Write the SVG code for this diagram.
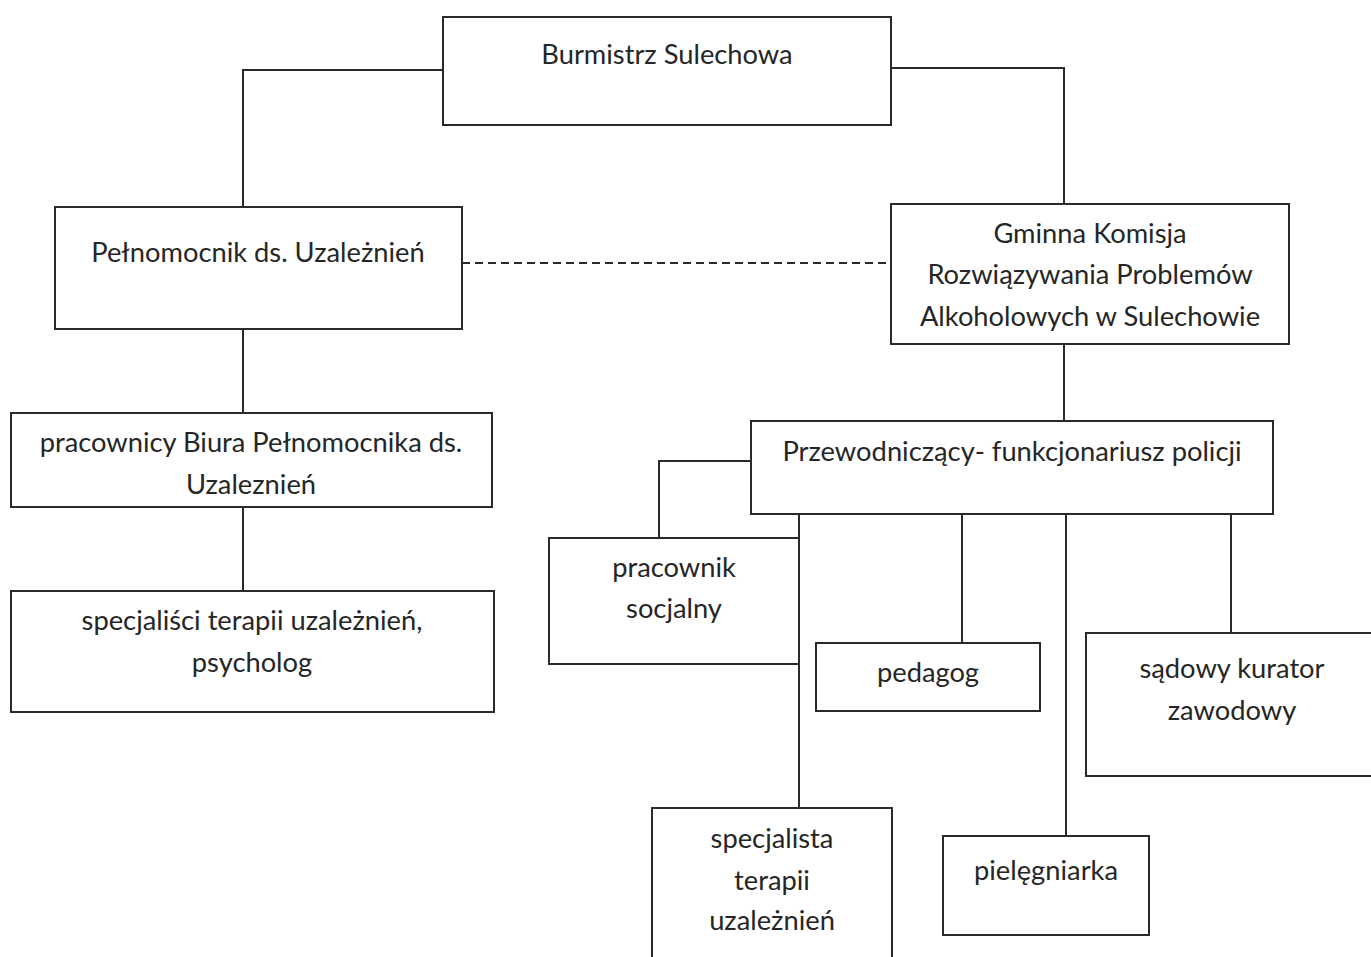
<svg xmlns="http://www.w3.org/2000/svg" width="1371" height="957" viewBox="0 0 1371 957">
<style>
.box{fill:#fff;stroke:#2a2a2a;stroke-width:2}
.ln{fill:none;stroke:#2a2a2a;stroke-width:2}
.dash{fill:none;stroke:#2a2a2a;stroke-width:2;stroke-dasharray:8 5}
text{font-family:"Lato","Open Sans",sans-serif;font-size:27.3px;fill:#262626;text-anchor:middle}
</style>
<rect width="1371" height="957" fill="#fff"/>
<g id="connectors">
<polyline class="ln" points="443,70 243,70 243,207"/>
<polyline class="ln" points="891,68 1064,68 1064,204"/>
<line class="dash" x1="462" y1="263" x2="891" y2="263"/>
<line class="ln" x1="243" y1="329" x2="243" y2="413"/>
<line class="ln" x1="243" y1="507" x2="243" y2="591"/>
<line class="ln" x1="1064" y1="344" x2="1064" y2="421"/>
<polyline class="ln" points="751,461 659,461 659,538"/>
<line class="ln" x1="799" y1="514" x2="799" y2="808"/>
<line class="ln" x1="962" y1="514" x2="962" y2="643"/>
<line class="ln" x1="1066" y1="514" x2="1066" y2="836"/>
<line class="ln" x1="1231" y1="514" x2="1231" y2="633"/>
</g>
<g id="burmistrz">
<rect class="box" x="443" y="17" width="448" height="108"/>
<text x="667" y="64">Burmistrz Sulechowa</text>
</g>
<g id="pelnomocnik">
<rect class="box" x="55" y="207" width="407" height="122"/>
<text x="258" y="262">Pełnomocnik ds. Uzależnień</text>
</g>
<g id="komisja">
<rect class="box" x="891" y="204" width="398" height="140"/>
<text x="1090" y="243">Gminna Komisja</text>
<text x="1090" y="284">Rozwiązywania Problemów</text>
<text x="1090" y="326">Alkoholowych w Sulechowie</text>
</g>
<g id="biuro">
<rect class="box" x="11" y="413" width="481" height="94"/>
<text x="251" y="452">pracownicy Biura Pełnomocnika ds.</text>
<text x="251" y="494">Uzaleznień</text>
</g>
<g id="specjalisci">
<rect class="box" x="11" y="591" width="483" height="121"/>
<text x="252" y="630">specjaliści terapii uzależnień,</text>
<text x="252" y="672">psycholog</text>
</g>
<g id="przewodniczacy">
<rect class="box" x="751" y="421" width="522" height="93"/>
<text x="1012" y="461">Przewodniczący- funkcjonariusz policji</text>
</g>
<g id="pracownik-socjalny">
<rect class="box" x="549" y="538" width="250" height="126"/>
<text x="674" y="577">pracownik</text>
<text x="674" y="618">socjalny</text>
</g>
<g id="pedagog">
<rect class="box" x="816" y="643" width="224" height="68"/>
<text x="928" y="682">pedagog</text>
</g>
<g id="kurator">
<rect class="box" x="1086" y="633" width="300" height="143"/>
<text x="1232" y="678">sądowy kurator</text>
<text x="1232" y="720">zawodowy</text>
</g>
<g id="specjalista">
<rect class="box" x="652" y="808" width="240" height="160"/>
<text x="772" y="848">specjalista</text>
<text x="772" y="890">terapii</text>
<text x="772" y="930">uzależnień</text>
</g>
<g id="pielegniarka">
<rect class="box" x="943" y="836" width="206" height="99"/>
<text x="1046" y="880">pielęgniarka</text>
</g>
</svg>
